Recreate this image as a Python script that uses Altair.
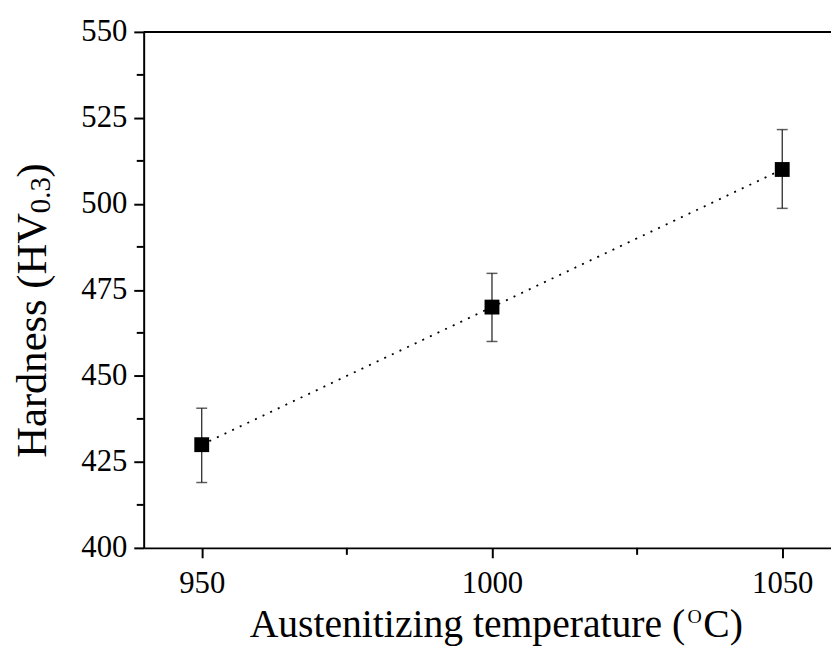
import altair as alt
import pandas as pd

# ---- data ----
temperature = [950, 1000, 1050]
hardness = [430, 470, 510]
err_low = [419, 460, 498.7]
err_high = [440.6, 479.8, 521.6]

x_major = [950, 1000, 1050]
x_minor = [975, 1025]
y_major = [400, 425, 450, 475, 500, 525, 550]
y_minor = [412.5, 437.5, 462.5, 487.5, 512.5, 537.5]

x_title_parts = ["Austenitizing temperature (", "O", "C)"]
y_title_parts = ["Hardness (HV", "0.3", ")"]

FONT = "Liberation Serif"
W, H = 694, 521
XDOM = [940, 1058.4]
YDOM = [400, 550]

df = pd.DataFrame({"t": temperature, "h": hardness, "lo": err_low, "hi": err_high})
xs = alt.Scale(domain=XDOM, nice=False, zero=False)
ys = alt.Scale(domain=YDOM, nice=False, zero=False)

ax_common = dict(tickSize=10, tickWidth=2, domainWidth=2, domainColor="black",
                 tickColor="black", labelFont=FONT, labelFontSize=31, labelColor="black",
                 grid=False, title=None, labelFlush=False, format="d")
xax = alt.Axis(values=x_major, labelPadding=11, **ax_common)
yax = alt.Axis(values=y_major, labelPadding=7, **ax_common)


def X(f):
    return alt.X(f, scale=xs, axis=xax, title=None)


def Y(f):
    return alt.Y(f, scale=ys, axis=yax, title=None)


base = alt.Chart(df)

line = base.mark_line(color="black", strokeWidth=1.8, strokeDash=[2, 6.5]).encode(
    x=X("t:Q"), y=Y("h:Q"))

err = base.mark_rule(color="#1a1a1a", strokeWidth=1.2).encode(
    x=X("t:Q"), y=Y("lo:Q"), y2="hi:Q")
cap_lo = base.mark_tick(color="#1a1a1a", thickness=1.5, size=11, orient="horizontal").encode(
    x=X("t:Q"), y=Y("lo:Q"))
cap_hi = base.mark_tick(color="#1a1a1a", thickness=1.5, size=11, orient="horizontal").encode(
    x=X("t:Q"), y=Y("hi:Q"))

pts = base.mark_square(color="black", size=225, opacity=1).encode(
    x=X("t:Q"), y=Y("h:Q"))

minor_x = alt.Chart(pd.DataFrame({"v": x_minor})).mark_rule(color="black", strokeWidth=2).encode(
    x=X("v:Q"), y=alt.value(H), y2=alt.value(H + 7))
minor_y = alt.Chart(pd.DataFrame({"v": y_minor})).mark_rule(color="black", strokeWidth=2).encode(
    y=Y("v:Q"), x=alt.value(-7), x2=alt.value(0))

top = alt.Chart(pd.DataFrame({"v": [YDOM[1]]})).mark_rule(color="black", strokeWidth=2).encode(
    y=Y("v:Q"), x=alt.value(0), x2=alt.value(W))

one = pd.DataFrame({"a": [0]})


def txt(s, size, x, y, angle=0):
    return alt.Chart(one).mark_text(
        text=s, font=FONT, fontSize=size, color="black", align="left",
        baseline="alphabetic", angle=angle).encode(x=alt.value(x), y=alt.value(y))


xt = (txt(x_title_parts[0], 40, 107, 611)
      + txt(x_title_parts[1], 20, 549, 597)
      + txt(x_title_parts[2], 40, 565, 611))

yt = (txt(y_title_parts[0], 43, -99, 430, 270)
      + txt(y_title_parts[1], 29, -95, 183, 270)
      + txt(y_title_parts[2], 43, -99, 147, 270))

chart = alt.layer(line, err, cap_lo, cap_hi, pts, minor_x, minor_y, top, xt, yt).properties(
    width=W, height=H,
    padding={"left": 137, "top": 21, "right": 0, "bottom": 101},
    autosize=alt.AutoSizeParams(type="none"),
    background="white",
).configure_view(stroke=None)

chart.save("out.html", embed_options={"renderer": "svg", "actions": False})
